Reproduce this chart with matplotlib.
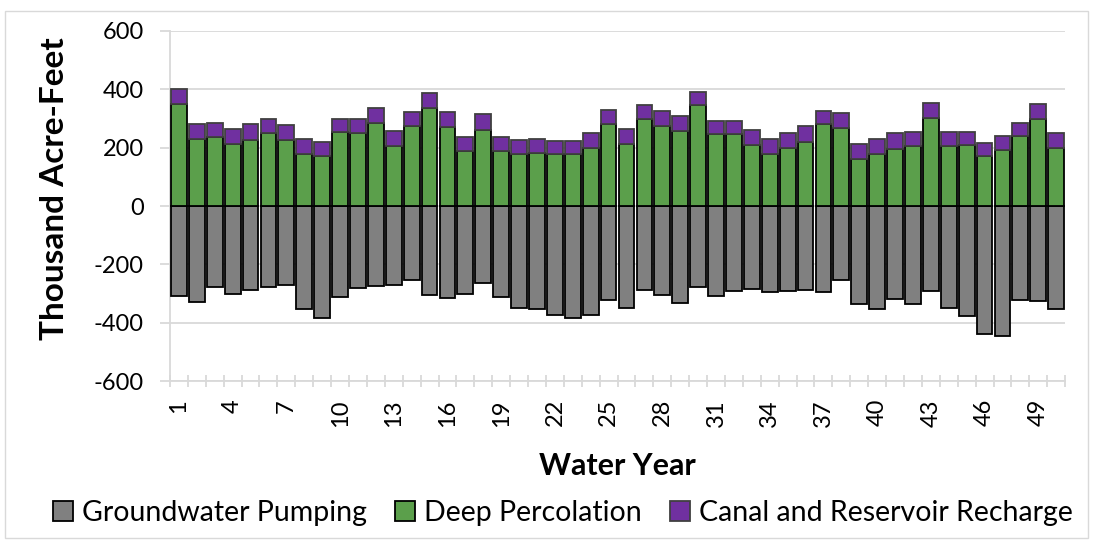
import numpy as np
import matplotlib
matplotlib.use("Agg")
import matplotlib.pyplot as plt
from matplotlib.patches import Rectangle

plt.rcParams['font.family'] = ['Lato', 'DejaVu Sans']

years = np.arange(1, 51)
pumping = [-307, -329, -278, -302, -287, -276, -271, -352, -384, -312,
           -282, -275, -270, -253, -306, -314, -302, -264, -311, -350,
           -353, -373, -384, -373, -321, -348, -287, -304, -333, -278,
           -307, -290, -285, -296, -290, -287, -295, -253, -336, -352,
           -318, -336, -290, -350, -376, -438, -447, -321, -327, -352]
percolation = [351, 229, 237, 214, 227, 249, 226, 179, 171, 254,
               249, 285, 206, 274, 337, 271, 189, 262, 187, 179,
               183, 179, 179, 200, 280, 214, 297, 275, 257, 345,
               246, 246, 209, 179, 200, 218, 280, 266, 162, 179,
               197, 205, 302, 205, 209, 170, 192, 239, 297, 200]
recharge = [49, 51, 49, 51, 53, 50, 52, 50, 50, 45,
            50, 50, 51, 48, 52, 51, 49, 52, 51, 47,
            46, 44, 44, 51, 50, 51, 50, 52, 52, 47,
            47, 47, 50, 50, 51, 56, 47, 52, 49, 50,
            52, 50, 51, 49, 45, 47, 47, 47, 52, 51]
yticks = [-600, -400, -200, 0, 200, 400, 600]
xtick_years = list(range(1, 51, 3))

grid_col = '#d9d9d9'

fig = plt.figure(figsize=(10.93, 5.41), dpi=100)
ax = fig.add_axes([0.1555, 0.2957, 0.819, 0.647])

# outer chart border
fig.patches.append(Rectangle((0.005, 0.005), 0.99, 0.975, transform=fig.transFigure,
                             fill=False, edgecolor=grid_col, linewidth=1.0))

w = 0.88
ax.bar(years, pumping, w, color='#808080', edgecolor='black', linewidth=1.3,
       label='Groundwater Pumping', zorder=3)
ax.bar(years, percolation, w, color='#5b9f4b', edgecolor='black', linewidth=1.3,
       label='Deep Percolation', zorder=3)
ax.bar(years, recharge, w, bottom=percolation, color='#7030a0', edgecolor='#404040',
       linewidth=1.3, label='Canal and Reservoir Recharge', zorder=3)

ax.set_xlim(0.5, 50.5)
ax.set_ylim(-600, 600)
ax.set_yticks(yticks)
ax.set_yticklabels([str(v) for v in yticks], fontsize=17)
ax.yaxis.grid(True, color=grid_col, linewidth=1.3, zorder=0)
ax.tick_params(axis='y', length=7, color=grid_col, width=1.3, pad=12)

ax.set_xticks(xtick_years)
ax.set_xticklabels([str(v) for v in xtick_years], rotation=90, fontsize=17)
ax.tick_params(axis='x', which='major', length=0, pad=13)
ax.set_xticks(np.arange(0.5, 51.5, 1), minor=True)
ax.tick_params(axis='x', which='minor', length=9, color=grid_col, width=1.3,
               direction='inout')

for s in ['top', 'right']:
    ax.spines[s].set_visible(False)
for s in ['left', 'bottom']:
    ax.spines[s].set_color(grid_col)
    ax.spines[s].set_linewidth(1.3)

ax.set_ylabel('Thousand Acre-Feet', fontsize=24, fontweight='bold')
ax.yaxis.set_label_coords(-0.113, 0.55)
ax.set_xlabel('Water Year', fontsize=22, fontweight='bold', labelpad=18)

fig.legend(loc='lower center', bbox_to_anchor=(0.515, -0.02), ncol=3, frameon=False,
           fontsize=20.5, handlelength=0.7, handleheight=0.7, handletextpad=0.3,
           columnspacing=1.0)

fig.savefig('out.png', dpi=100)
